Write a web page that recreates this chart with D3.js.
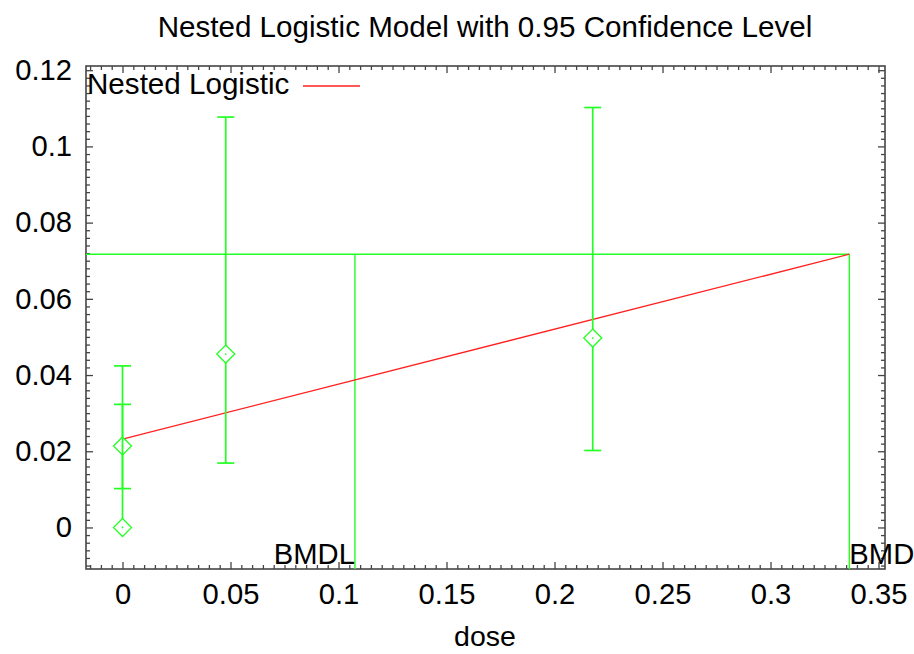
<!DOCTYPE html>
<html>
<head>
<meta charset="utf-8">
<script src="https://cdn.jsdelivr.net/npm/d3@7"></script>
<style>
  html, body { margin: 0; padding: 0; background: #fff; }
  svg { display: block; font-family: "Liberation Sans", Arial, sans-serif; }
</style>
</head>
<body>
<svg id="chart" width="914" height="654"></svg>
<script>
// Observed dose groups: mean response with 95% confidence limits
const doses  = [0,      0.0478, 0.2177, 0];
const means  = [0.0214, 0.0455, 0.0497, 0];
const lower  = [0.0102, 0.0169, 0.0202, 0];
const upper  = [0.0323, 0.1077, 0.1102, 0.0424];

// Fitted nested logistic curve
const fitDose = [0, 0.3365];
const fitResp = [0.0232, 0.0717];

// Benchmark dose results
const bmrResponse = 0.0717;
const bmdl = 0.1076;
const bmd  = 0.3365;

// Axis ticks
const xTicks = [0, 0.05, 0.1, 0.15, 0.2, 0.25, 0.3, 0.35];
const xTickLabels = ["0", "0.05", "0.1", "0.15", "0.2", "0.25", "0.3", "0.35"];
const yTicks = [0, 0.02, 0.04, 0.06, 0.08, 0.1, 0.12];
const yTickLabels = ["0", "0.02", "0.04", "0.06", "0.08", "0.1", "0.12"];

const W = 914, H = 654;
const plot = { left: 86, right: 885, top: 66, bottom: 569 };
const frameColor = "#454545";
const green = "#22ff22";
const red = "#ff2020";

const svg = d3.select("#chart");

const x = d3.scaleLinear().domain([-0.0169, 0.353]).range([plot.left, plot.right]);
const y = d3.scaleLinear().domain([-0.0109, 0.1211]).range([plot.bottom, plot.top]);

// Title and axis label
svg.append("text")
  .attr("x", 485).attr("y", 37)
  .attr("text-anchor", "middle")
  .attr("font-size", 29.6)
  .text("Nested Logistic Model with 0.95 Confidence Level");

svg.append("text")
  .attr("x", 485).attr("y", 646)
  .attr("text-anchor", "middle")
  .attr("font-size", 28.5)
  .text("dose");

// Minor tick positions
const xMinor = d3.range(-0.015, 0.3526, 0.005).filter(v => !xTicks.some(t => Math.abs(t - v) < 1e-9));
const yMinor = d3.range(-0.010, 0.1206, 0.002).filter(v => !yTicks.some(t => Math.abs(t - v) < 1e-9));

function styleAxis(g) {
  g.select(".domain").remove();
  g.selectAll(".tick line").attr("stroke", frameColor).attr("stroke-width", 1.3);
  g.selectAll(".tick text").attr("fill", "#000").attr("font-size", 29.2)
    .attr("font-family", "Liberation Sans, Arial, sans-serif");
}

// Bottom axis (ticks pointing inward)
svg.append("g").attr("transform", `translate(0,${plot.bottom})`)
  .call(d3.axisBottom(x).tickValues(xTicks).tickSize(-7).tickPadding(14)
    .tickFormat((d, i) => xTickLabels[i]))
  .call(styleAxis)
  .call(g => g.selectAll(".tick text").attr("dy", "0.71em"));
svg.append("g").attr("transform", `translate(0,${plot.bottom})`)
  .call(d3.axisBottom(x).tickValues(xMinor).tickSize(-4).tickFormat(""))
  .call(styleAxis);

// Top axis
svg.append("g").attr("transform", `translate(0,${plot.top})`)
  .call(d3.axisTop(x).tickValues(xTicks).tickSize(-7).tickFormat(""))
  .call(styleAxis);
svg.append("g").attr("transform", `translate(0,${plot.top})`)
  .call(d3.axisTop(x).tickValues(xMinor).tickSize(-4).tickFormat(""))
  .call(styleAxis);

// Left axis
svg.append("g").attr("transform", `translate(${plot.left},0)`)
  .call(d3.axisLeft(y).tickValues(yTicks).tickSize(-7).tickPadding(14)
    .tickFormat((d, i) => yTickLabels[i]))
  .call(styleAxis);
svg.append("g").attr("transform", `translate(${plot.left},0)`)
  .call(d3.axisLeft(y).tickValues(yMinor).tickSize(-4).tickFormat(""))
  .call(styleAxis);

// Right axis
svg.append("g").attr("transform", `translate(${plot.right},0)`)
  .call(d3.axisRight(y).tickValues(yTicks).tickSize(-7).tickFormat(""))
  .call(styleAxis);
svg.append("g").attr("transform", `translate(${plot.right},0)`)
  .call(d3.axisRight(y).tickValues(yMinor).tickSize(-4).tickFormat(""))
  .call(styleAxis);

// Plot frame
svg.append("rect")
  .attr("x", plot.left).attr("y", plot.top)
  .attr("width", plot.right - plot.left).attr("height", plot.bottom - plot.top)
  .attr("fill", "none").attr("stroke", frameColor).attr("stroke-width", 1.6);

// Benchmark dose guide lines
const bmdLayer = svg.append("g").attr("stroke", green).attr("stroke-width", 1.4).attr("fill", "none");
bmdLayer.append("line")
  .attr("x1", plot.left).attr("x2", x(bmd))
  .attr("y1", y(bmrResponse)).attr("y2", y(bmrResponse));
bmdLayer.append("line")
  .attr("x1", x(bmdl)).attr("x2", x(bmdl))
  .attr("y1", y(bmrResponse)).attr("y2", plot.bottom);
bmdLayer.append("line")
  .attr("x1", x(bmd)).attr("x2", x(bmd))
  .attr("y1", y(bmrResponse)).attr("y2", plot.bottom);

svg.append("text")
  .attr("x", x(bmdl)).attr("y", 564)
  .attr("text-anchor", "end").attr("font-size", 29.2)
  .text("BMDL");
svg.append("text")
  .attr("x", x(bmd)).attr("y", 564)
  .attr("text-anchor", "start").attr("font-size", 29.2)
  .text("BMD");

// Fitted curve
const fitLine = d3.line().x(d => x(d[0])).y(d => y(d[1]));
svg.append("path")
  .datum(fitDose.map((d, i) => [d, fitResp[i]]))
  .attr("d", fitLine)
  .attr("fill", "none").attr("stroke", red).attr("stroke-width", 1.3);

// Error bars and diamond markers, one group per dose group
const capHalf = 8.5, diamondHalf = 9;
const points = doses.map((d, i) => ({ dose: d, mean: means[i], lo: lower[i], hi: upper[i] }));

points.forEach(p => {
  const g = svg.append("g");
  const cx = x(p.dose), cy = y(p.mean);
  const bar = g.append("g").attr("stroke", green).attr("stroke-width", 1.7);
  bar.append("line").attr("x1", cx).attr("x2", cx).attr("y1", y(p.hi)).attr("y2", y(p.lo));
  bar.append("line").attr("x1", cx - capHalf).attr("x2", cx + capHalf).attr("y1", y(p.hi)).attr("y2", y(p.hi));
  bar.append("line").attr("x1", cx - capHalf).attr("x2", cx + capHalf).attr("y1", y(p.lo)).attr("y2", y(p.lo));
  g.append("path")
    .attr("d", `M${cx},${cy - diamondHalf}L${cx + diamondHalf},${cy}L${cx},${cy + diamondHalf}L${cx - diamondHalf},${cy}Z`)
    .attr("fill", "#fff").attr("stroke", green).attr("stroke-width", 1.3);
  g.append("circle").attr("cx", cx).attr("cy", cy).attr("r", 0.9).attr("fill", green);
});

// Legend
svg.append("text")
  .attr("x", 87).attr("y", 94)
  .attr("font-size", 29.6)
  .text("Nested Logistic");
svg.append("line")
  .attr("x1", 303).attr("x2", 360).attr("y1", 86).attr("y2", 86)
  .attr("stroke", red).attr("stroke-width", 1.3);
</script>
</body>
</html>
